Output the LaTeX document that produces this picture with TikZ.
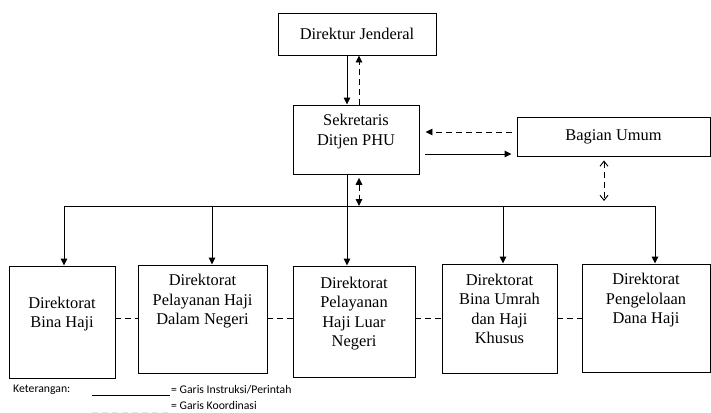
\documentclass[tikz,border=0pt]{standalone}
\usepackage{fontspec}
\setmainfont{Liberation Serif}
\newfontfamily\ketfont{Carlito}
\usetikzlibrary{arrows.meta,positioning}

\begin{document}
\begin{tikzpicture}[
    x=0.3mm, y=-0.3mm,
    box/.style={draw, line width=0.8pt, align=center, inner sep=0pt,
        font=\fontsize{14}{16.6}\selectfont},
    instr/.style={line width=0.8pt, -{Triangle[length=2.1mm,width=2mm]}},
    koord/.style={line width=0.8pt, dash pattern=on 1.8mm off 1.2mm},
    keter/.style={font=\ketfont\fontsize{10}{12}\selectfont, anchor=west, inner sep=0pt}
]
\useasboundingbox (0,0) rectangle (711,413);

% Direktur Jenderal
\node[box, minimum width=47.4mm, minimum height=12.6mm] (dj) at (357,34) {Direktur Jenderal};

% Sekretaris
\node[box, minimum width=37.8mm, minimum height=20.7mm] (sek) at (356,139.5) {Sekretaris\\Ditjen PHU\\\mbox{}};

% Bagian Umum
\node[box, minimum width=57.9mm, minimum height=11.7mm] (bu) at (613.5,136.5) {Bagian Umum};

% Direktorat
\node[box, minimum width=31.8mm, minimum height=33.6mm] (d1) at (62,322) {Direktorat\\Bina Haji\\\mbox{}};
\node[box, minimum width=38.7mm, minimum height=32.4mm] (d2) at (202.5,319) {Direktorat\\Pelayanan Haji\\Dalam Negeri\\\mbox{}\\\mbox{}};
\node[box, minimum width=36.6mm, minimum height=33.3mm] (d3) at (354,321.5) {Direktorat\\Pelayanan\\Haji Luar\\Negeri\\\mbox{}};
\node[box, minimum width=34.5mm, minimum height=32.7mm] (d4) at (499.5,318.5) {Direktorat\\Bina Umrah\\dan Haji\\Khusus\\\mbox{}};
\node[box, minimum width=38.4mm, minimum height=32.4mm] (d5) at (646,318) {Direktorat\\Pengelolaan\\Dana Haji\\\mbox{}\\\mbox{}};

% Garis instruksi
\coordinate (b1) at (64,206);
\coordinate (b2) at (212,206);
\coordinate (b3) at (347,206);
\coordinate (b4) at (503,206);
\coordinate (b5) at (655,206);
\draw[line width=0.8pt] (b1) -- (b5);
\foreach \i in {1,2,4,5}
    \draw[instr] (b\i) -- (b\i |- d\i.north);
\draw[instr] (sek.south -| b3) -- (b3 |- d3.north);
\draw[instr] (dj.south -| b3) -- (sek.north -| b3);
\coordinate (kb) at (0,154);
\draw[instr, shorten <=1.8mm, shorten >=1.5mm] (sek.east |- kb) -- (bu.west |- kb);

% Garis koordinasi
\coordinate (up) at (359,206);
\draw[koord, -{Triangle[length=2.1mm,width=2mm]}] (sek.north -| up) -- (dj.south -| up);
\draw[koord, {Triangle[length=2.1mm,width=2mm]}-{Triangle[length=2.1mm,width=2mm]}, shorten <=1mm]
    (sek.south -| up) -- (up);
\coordinate (ka) at (0,132);
\draw[koord, -{Triangle[length=2.1mm,width=2mm]}, shorten <=1.5mm, shorten >=1.8mm]
    (bu.west |- ka) -- (sek.east |- ka);
\coordinate (bv) at (604,206);
\draw[koord, {Straight Barb[length=1.5mm,width=2.4mm]}-{Straight Barb[length=1.5mm,width=2.4mm]},
    shorten <=1.2mm, shorten >=1.5mm] (bu.south -| bv) -- (bv);
\coordinate (m) at (0,318);
\foreach \i/\j in {1/2,2/3,3/4,4/5}
    \draw[koord] (d\i.east |- m) -- (d\j.west |- m);

% Keterangan
\node[keter] (ket) at (13,390) {Keterangan:};
\coordinate (l1) at (92,395);
\coordinate (l2) at (170,395);
\draw[line width=0.6pt] (l1) -- (l2);
\node[keter] (ins) at (171,390) {= Garis Instruksi/Perintah};
\coordinate (l3) at (92,412.5);
\coordinate (l4) at (170,412.5);
\draw[koord, gray!20, line width=0.6pt] (l3) -- (l4);
\node[keter] (kor) at (171,405) {= Garis Koordinasi};

\end{tikzpicture}
\end{document}
